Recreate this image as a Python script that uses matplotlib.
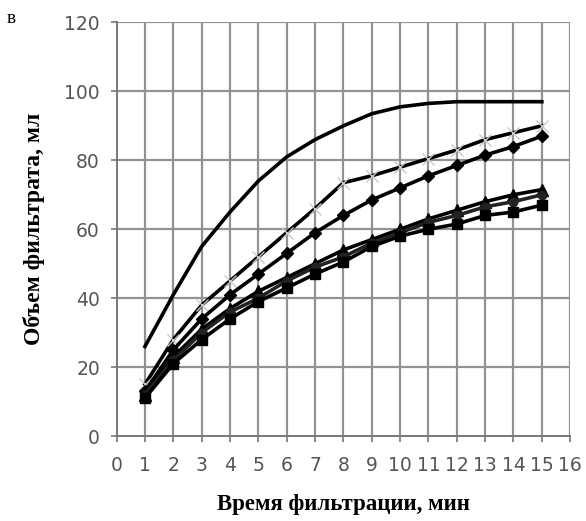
import numpy as np
import matplotlib
matplotlib.use('Agg')
import matplotlib.pyplot as plt

# время фильтрации, мин
t = [1, 2, 3, 4, 5, 6, 7, 8, 9, 10, 11, 12, 13, 14, 15]

# объем фильтрата, мл
v_top = [26, 41, 55, 65, 74, 81, 86, 90, 93.5, 95.5, 96.5, 97, 97, 97, 97]
v_cross = [15, 28, 38, 45, 52, 59, 66, 73.5, 75.5, 78, 80.5, 83, 86, 88, 90]
v_diamond = [13, 25, 34, 41, 47, 53, 59, 64, 68.5, 72, 75.5, 78.5, 81.5, 84, 87]
v_triangle = [12, 23, 31, 37, 42, 46, 50, 54, 57, 60, 63, 65.5, 68, 70, 71.5]
v_circle = [12, 22, 30, 36, 40, 45, 49, 52, 56, 59, 62, 64, 66.5, 68, 70]
v_square = [11, 21, 28, 34, 39, 43, 47, 50.5, 55, 58, 60, 61.5, 64, 65, 67]

xticks = list(range(0, 17))
yticks = [0, 20, 40, 60, 80, 100, 120]

fig = plt.figure(figsize=(5.86, 5.21), dpi=100)
ax = fig.add_axes([0.199, 0.163, 0.774, 0.794])

grid_c = '#929292'
for x in xticks[1:]:
    ax.axvline(x, color=grid_c, lw=1.6, zorder=0)
for y in yticks[1:]:
    ax.axhline(y, color=grid_c, lw=1.6, zorder=0)

lw = 2.6
ax.plot(t, v_top, color='black', lw=lw)
ax.plot(t, v_cross, color='black', lw=lw, marker='x', ms=9, mec='#c8c8c8', mew=1.0)
ax.plot(t, v_diamond, color='black', lw=lw, marker='D', ms=6)
ax.plot(t, v_triangle, color='black', lw=lw, marker='^', ms=8)
ax.plot(t, v_circle, color='#222222', lw=lw, marker='o', ms=6)
ax.plot(t, v_square, color='black', lw=lw, marker='s', ms=7)

ax.set_xlim(0, 16)
ax.set_ylim(0, 120)
ax.set_xticks(xticks)
ax.set_yticks(yticks)
ax.tick_params(axis='both', colors='#777777', labelcolor='#555555',
               labelsize=13.5, length=4, width=1.2, direction='out')
ax.tick_params(axis='x', pad=10)
ax.tick_params(axis='y', pad=8)
for s in ['top', 'right']:
    ax.spines[s].set_visible(False)
for s in ['left', 'bottom']:
    ax.spines[s].set_color('#777777')
    ax.spines[s].set_linewidth(1.4)

ax.set_xlabel('Время фильтрации, мин', family='Liberation Serif',
              fontweight='bold', fontsize=16.5, labelpad=14)
ax.set_ylabel('Объем фильтрата, мл', family='Liberation Serif',
              fontweight='bold', fontsize=17, labelpad=14)

fig.text(0.012, 0.965, 'в', family='Liberation Serif', fontsize=14, va='center')

fig.savefig('out.png', dpi=100)
